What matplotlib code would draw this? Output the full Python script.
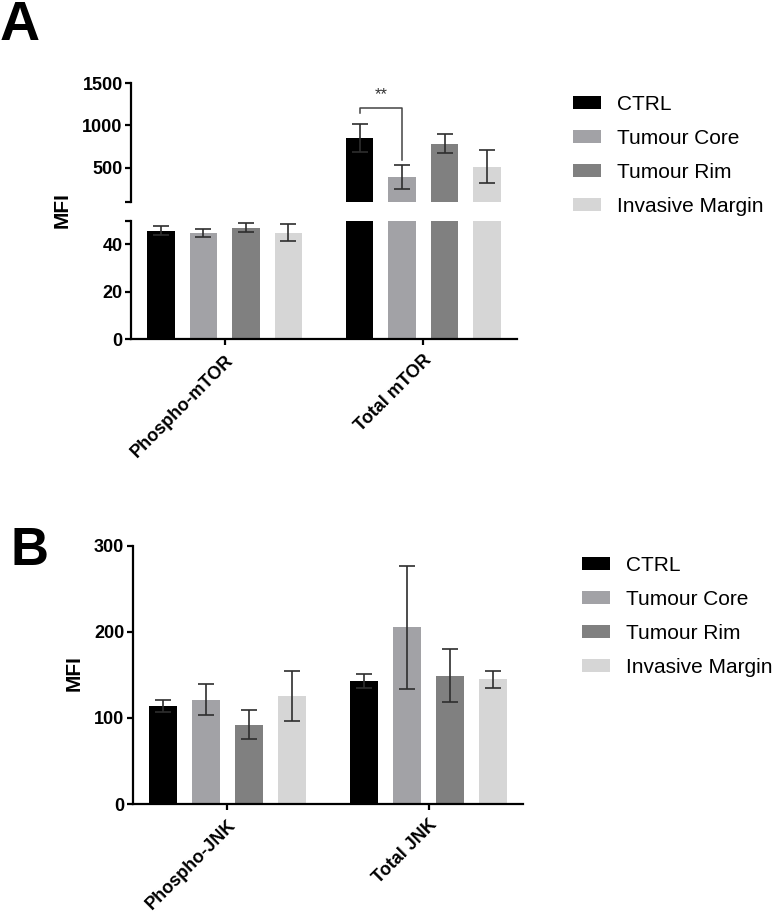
import numpy as np
import matplotlib.pyplot as plt
from matplotlib.patches import Patch

plt.rcParams['font.family'] = ['Liberation Sans', 'DejaVu Sans']

#groups and colours
groups = ['CTRL', 'Tumour Core', 'Tumour Rim', 'Invasive Margin']
colours = ['#000000', '#a2a2a6', '#808080', '#d6d6d6']

#panel A data (mean, sem)
cats_a = ['Phospho-mTOR', 'Total mTOR']
mtor_phospho = [45.8, 45.0, 47.1, 45.0]
mtor_phospho_err = [2.0, 1.7, 1.8, 3.5]
mtor_total = [850, 390, 785, 510]
mtor_total_err = [165, 137, 108, 195]

#panel B data
cats_b = ['Phospho-JNK', 'Total JNK']
jnk_phospho = [114, 121, 92, 125]
jnk_phospho_err = [7, 18, 17, 29]
jnk_total = [143, 205, 149, 145]
jnk_total_err = [8, 71, 31, 10]

gap = 4.67 #distance between group centres
w = 0.65 #bar width
W, H = 772, 921

fig = plt.figure(figsize=(W/100, H/100), dpi=100)

def px_axes(x0, x1, ytop, ybot):
    return fig.add_axes([x0/W, 1-ybot/H, (x1-x0)/W, (ybot-ytop)/H])

def draw_bars(ax, vals_list, errs_list):
    for g, (vals, errs) in enumerate(zip(vals_list, errs_list)):
        for i in range(4):
            x = g*gap + (i-1.5)
            ax.bar(x, vals[i], width=w, color=colours[i], linewidth=0, zorder=2)
            ax.errorbar(x, vals[i], yerr=errs[i], color='#2e2e2e', elinewidth=1.2,
                        capsize=5.5, capthick=1.2, zorder=3)

def style(ax):
    for s in ['top', 'right']:
        ax.spines[s].set_visible(False)
    for s in ['left', 'bottom']:
        ax.spines[s].set_linewidth(1.6)
    ax.tick_params(width=1.6, length=4, labelsize=13, pad=2)
    ax.tick_params(axis='x', pad=5)
    for lab in ax.get_yticklabels():
        lab.set_fontweight('bold')
    ax.set_xlim(-2.2, gap+2.2)

def cat_labels(ax, cats):
    ax.set_xticks([0, gap])
    ax.set_xticklabels(cats, rotation=45, ha='right', rotation_mode='anchor',
                       fontweight='bold', fontsize=14.5)

def legend(x, y):
    handles = [Patch(facecolor=c, edgecolor='none') for c in colours]
    fig.legend(handles, groups, loc='upper left', bbox_to_anchor=(x/W, 1-y/H),
               frameon=False, fontsize=15, handlelength=1.35, handleheight=0.55,
               handletextpad=0.75, labelspacing=0.72, borderpad=0, borderaxespad=0)

#panel A, broken y axis
ax_top = px_axes(131, 517, 83, 201.7)
ax_bot = px_axes(131, 517, 220.7, 339.3)
for ax in (ax_top, ax_bot):
    draw_bars(ax, [mtor_phospho, mtor_total], [mtor_phospho_err, mtor_total_err])

ax_top.set_ylim(100, 1500)
ax_top.set_yticks([100, 500, 1000, 1500])
ax_top.set_yticklabels(['', '500', '1000', '1500'])
ax_top.spines['bottom'].set_visible(False)
ax_top.set_xticks([])
style(ax_top)

ax_bot.set_ylim(0, 50)
ax_bot.set_yticks([0, 20, 40, 50])
ax_bot.set_yticklabels(['0', '20', '40', ''])
cat_labels(ax_bot, cats_a)
style(ax_bot)

#significance bracket
x1, x2 = gap-1.5, gap-0.5
ax_top.plot([x1, x1, x2, x2], [1150, 1209, 1209, 594], color='#444444', lw=1.1, clip_on=False)
ax_top.text((x1+x2)/2, 1280, '**', ha='center', va='bottom', fontsize=12, color='#333333')

fig.text(62/W, 1-210/H, 'MFI', rotation=90, ha='center', va='center', fontsize=15, fontweight='bold')
fig.text(0, 1-40/H, 'A', fontsize=40, fontweight='bold', va='baseline')
legend(573, 95)

#panel B
ax_b = px_axes(132.7, 523.3, 545.7, 804)
draw_bars(ax_b, [jnk_phospho, jnk_total], [jnk_phospho_err, jnk_total_err])
ax_b.set_ylim(0, 300)
ax_b.set_yticks([0, 100, 200, 300])
cat_labels(ax_b, cats_b)
style(ax_b)

fig.text(74/W, 1-673/H, 'MFI', rotation=90, ha='center', va='center', fontsize=15, fontweight='bold')
fig.text(10/W, 1-565/H, 'B', fontsize=38, fontweight='bold', va='baseline')
legend(582, 556)

plt.savefig('out.png', dpi=100)
